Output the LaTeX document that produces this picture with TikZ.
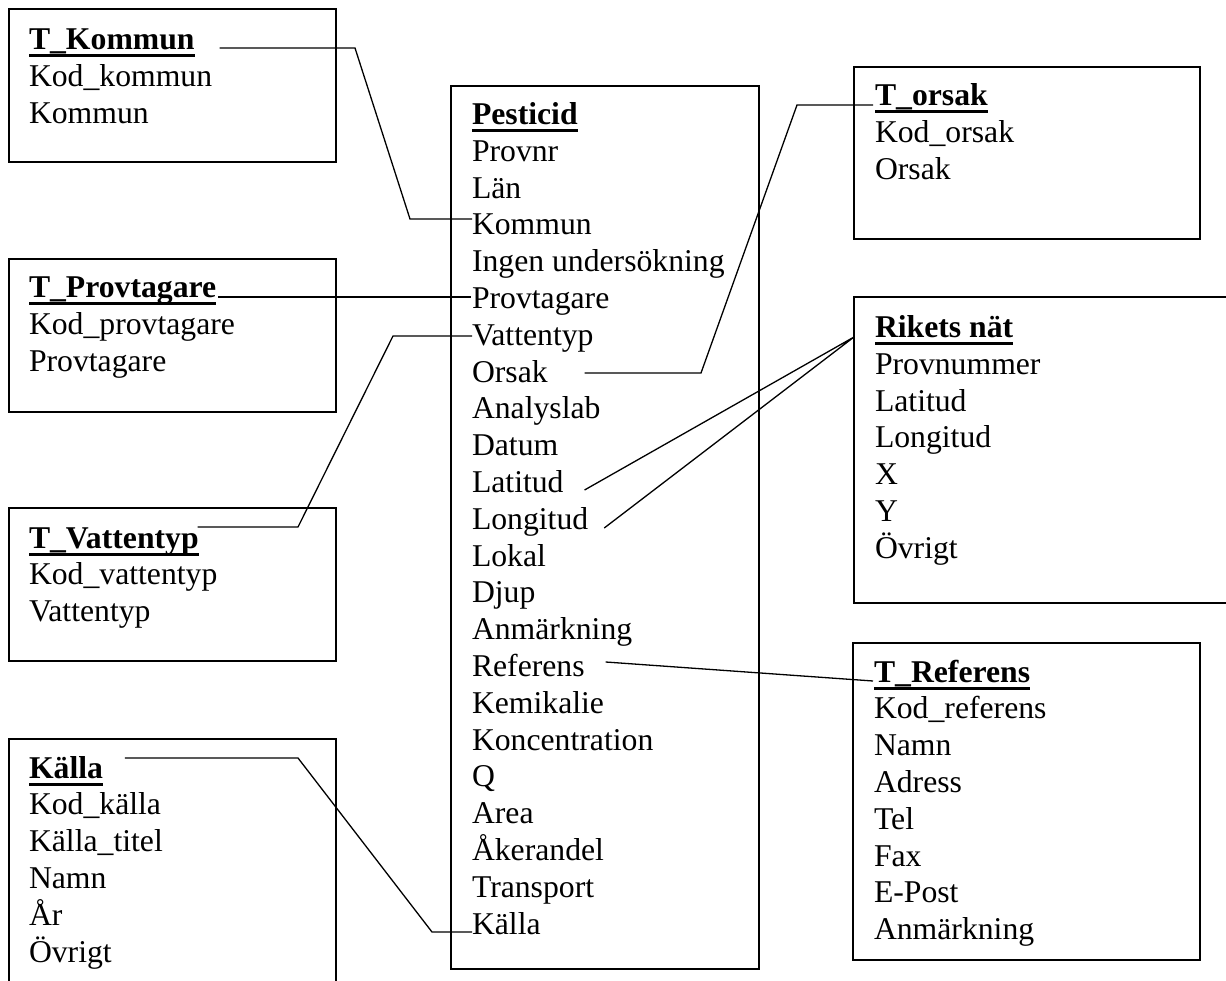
\documentclass[tikz,border=0pt]{standalone}
\usepackage{fontspec}
\setmainfont{Liberation Serif}
\usetikzlibrary{calc}
\tikzset{
  tbox/.style={draw, line width=1.8pt, anchor=north west, inner sep=0pt, outer sep=0pt},
  row/.style={anchor=base west, inner sep=0pt, outer sep=0pt, font=\fontsize{31.7}{36.8}\selectfont},
  ttl/.style={anchor=base west, inner sep=0pt, outer sep=0pt, font=\fontsize{31.7}{36.8}\selectfont\bfseries},
  uline/.style={line width=3pt},
  conn/.style={line width=1.3pt, line join=miter}
}
\newcommand\mkrows[4]{\foreach \t [count=\i] in {#4} {\node[row] (#1\i) at (#2,{#3+36.8*\i}) {\t};}}
\newcommand\ulin[1]{\draw[uline] ($(#1.base west)+(0,6)$) -- ($(#1.base east)+(0,6)$);}
\begin{document}
\begin{tikzpicture}[x=1pt,y=-1pt]
\useasboundingbox (0,0) rectangle (1226,981);
\fill[white] (0,0) rectangle (1226,981);
\clip (0,0) rectangle (1226,981);

% boxes
\node[tbox, minimum width=327pt, minimum height=153pt] (bkom) at (9,9) {};
\node[tbox, minimum width=327pt, minimum height=153pt] (bprov) at (9,259) {};
\node[tbox, minimum width=327pt, minimum height=153pt] (bvat) at (9,508) {};
\node[tbox, minimum width=327pt, minimum height=290pt] (bkal) at (9,739) {};
\node[tbox, minimum width=308pt, minimum height=883pt] (bpest) at (451,86) {};
\node[tbox, minimum width=346pt, minimum height=172pt] (bors) at (854,67) {};
\node[tbox, minimum width=420pt, minimum height=306pt] (brik) at (854,297) {};
\node[tbox, minimum width=347pt, minimum height=317pt] (bref) at (853,643) {};

% titles
\node[ttl] (tkom) at (29,50) {T\_Kommun};
\node[ttl] (tprov) at (29,298) {T\_Provtagare};
\node[ttl] (tvat) at (29,548) {T\_Vattentyp};
\node[ttl] (tkal) at (29,778) {Källa};
\node[ttl] (tpest) at (472,124.5) {Pesticid};
\node[ttl] (tors) at (875,105.5) {T\_orsak};
\node[ttl] (trik) at (875,337.5) {Rikets nät};
\node[ttl] (tref) at (874,682) {T\_Referens};
\ulin{tkom}\ulin{tprov}\ulin{tvat}\ulin{tkal}\ulin{tpest}\ulin{tors}\ulin{trik}\ulin{tref}

% rows
\mkrows{km}{29}{50}{Kod\_kommun, Kommun}
\mkrows{pv}{29}{298}{Kod\_provtagare, Provtagare}
\mkrows{vt}{29}{548}{Kod\_vattentyp, Vattentyp}
\mkrows{kl}{29}{778}{Kod\_källa, Källa\_titel, Namn, År, Övrigt}
\mkrows{p}{472}{124.5}{Provnr, Län, Kommun, Ingen undersökning, Provtagare, Vattentyp, Orsak, Analyslab, Datum, Latitud, Longitud, Lokal, Djup, Anmärkning, Referens, Kemikalie, Koncentration, Q, Area, Åkerandel, Transport, Källa}
\mkrows{os}{875}{105.5}{Kod\_orsak, Orsak}
\mkrows{rn}{875}{337.5}{Provnummer, Latitud, Longitud, X, Y, Övrigt}
\mkrows{rf}{874}{682}{Kod\_referens, Namn, Adress, Tel, Fax, E-Post, Anmärkning}

% bend points
\coordinate (ck1) at (355,48);
\coordinate (ck2) at (410,219);
\coordinate (cv1) at (298,527);
\coordinate (cv2) at (393,336);
\coordinate (co1) at (701,373);
\coordinate (co2) at (797,105);
\coordinate (cq1) at (298,758);
\coordinate (cq2) at (432,932);
\coordinate (cr0) at ($(brik.north west)+(0,40)$);

% connectors
\draw[conn] ($(ck1 -| tkom.east)+(25,0)$) -- (ck1) -- (ck2) -- (ck2 -| p3.west);
\draw[conn] ($(tprov.base east)+(2,-1)$) -- ($(p5.base west)+(-1,-11.5)$);
\draw[conn] ($(cv1 -| tvat.east)+(-1,0)$) -- (cv1) -- (cv2) -- (cv2 -| p6.west);
\draw[conn] ($(co1 -| p7.east)+(37,0)$) -- (co1) -- (co2) -- ($(co2 -| tors.west)+(-2,0)$);
\draw[conn] ($(p10.base east)+(21,-2.5)$) -- (cr0) -- ($(p11.base east)+(16,-1.3)$);
\draw[conn] ($(p15.base east)+(21,-14.5)$) -- ($(tref.base west)+(-1,-1)$);
\draw[conn] ($(cq1 -| tkal.east)+(22,0)$) -- (cq1) -- (cq2) -- (cq2 -| p22.west);
\end{tikzpicture}
\end{document}
